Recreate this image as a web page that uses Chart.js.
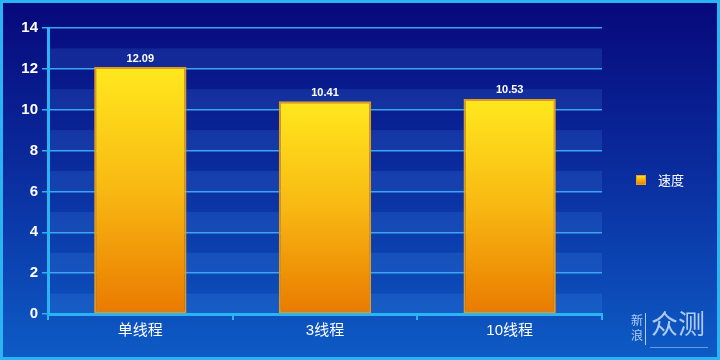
<!DOCTYPE html>
<html>
<head>
<meta charset="utf-8">
<script src="https://cdn.jsdelivr.net/npm/chart.js@4"></script>
<style>
  html, body { margin: 0; padding: 0; background: #0a2a9a; }
  #wrap { width: 720px; height: 360px; position: relative; }
</style>
</head>
<body>
<div id="wrap"><canvas id="speedChart" width="720" height="360"></canvas></div>
<script>
const categories = ["单线程", "3线程", "10线程"];
const speeds = [12.09, 10.41, 10.53];
const seriesLabel = "速度";
const yMax = 14;
const watermark = ["新", "浪", "众测"];

const cnFont = '"Liberation Sans", "Noto Sans CJK SC", sans-serif';

function barGradient(ctx) {
    const chart = ctx.chart;
    if (!chart.chartArea || ctx.parsed === undefined) return "#f5b010";
    const y = chart.scales.y;
    const top = y.getPixelForValue(ctx.parsed.y);
    const bottom = y.getPixelForValue(0);
    const g = chart.ctx.createLinearGradient(0, top, 0, bottom);
    g.addColorStop(0, "#ffe81e");
    g.addColorStop(0.5, "#f8b812");
    g.addColorStop(1, "#ea7a00");
    return g;
}

// background, frame and striped plot area
const backdrop = {
    id: "backdrop",
    beforeDraw(chart) {
        const { ctx, width, height, chartArea: a } = chart;
        const y = chart.scales.y;
        ctx.save();
        const bg = ctx.createLinearGradient(0, 0, 0, height);
        bg.addColorStop(0, "#06087a");
        bg.addColorStop(0.45, "#0a2a9c");
        bg.addColorStop(1, "#0d5cc6");
        ctx.fillStyle = bg;
        ctx.fillRect(0, 0, width, height);
        ctx.fillStyle = "rgba(90,170,255,0.15)";
        for (let v = 0; v < yMax; v += 2) {
            const t = y.getPixelForValue(v + 1);
            const b = y.getPixelForValue(v);
            ctx.fillRect(a.left, t, a.right - a.left, b - t);
        }
        ctx.strokeStyle = "#2ab4f4";
        ctx.lineWidth = 3;
        ctx.strokeRect(1.5, 1.5, width - 3, height - 3);
        ctx.restore();
    },
    afterDraw(chart) {
        const { ctx } = chart;
        const meta = chart.getDatasetMeta(0);
        ctx.save();
        // value labels
        ctx.fillStyle = "#ffffff";
        ctx.font = 'bold 11px "Liberation Sans", sans-serif';
        ctx.textAlign = "center";
        ctx.textBaseline = "bottom";
        meta.data.forEach((bar, i) => {
            ctx.fillText(speeds[i].toFixed(2), bar.x, bar.y - 3);
        });
        // legend
        const lx = 636, ly = 180;
        const lg = ctx.createLinearGradient(0, ly - 5, 0, ly + 5);
        lg.addColorStop(0, "#ffe81e");
        lg.addColorStop(1, "#ea7a00");
        ctx.fillStyle = lg;
        ctx.fillRect(lx, ly - 5, 10, 10);
        ctx.strokeStyle = "#e8a020";
        ctx.lineWidth = 1;
        ctx.strokeRect(lx + 0.5, ly - 4.5, 9, 9);
        ctx.fillStyle = "#ffffff";
        ctx.font = '13px "Noto Sans CJK SC", sans-serif';
        ctx.textAlign = "left";
        ctx.textBaseline = "middle";
        ctx.fillText(chart.data.datasets[0].label, 658, ly);
        // watermark
        ctx.fillStyle = "rgba(215,232,255,0.8)";
        ctx.font = '12px "Noto Sans CJK SC", sans-serif';
        ctx.textAlign = "center";
        ctx.fillText(watermark[0], 637, 320);
        ctx.fillText(watermark[1], 637, 335);
        ctx.font = '27px "Noto Sans CJK SC", sans-serif';
        ctx.textAlign = "left";
        ctx.fillText(watermark[2], 651, 324);
        ctx.fillRect(645, 313, 1, 32);
        ctx.fillStyle = "rgba(215,232,255,0.45)";
        ctx.fillRect(650, 347, 58, 1);
        ctx.restore();
    }
};

const chart = new Chart(document.getElementById("speedChart"), {
    type: "bar",
    data: {
        labels: categories,
        datasets: [{
            label: seriesLabel,
            data: speeds,
            backgroundColor: barGradient,
            borderColor: "#e39a1c",
            borderWidth: 2,
            borderSkipped: false,
            categoryPercentage: 1,
            barPercentage: 0.5,
        }],
    },
    options: {
        responsive: false,
        animation: false,
        layout: { padding: { top: 28, right: 118, left: 0, bottom: 0 } },
        plugins: {
            legend: { display: false },
            tooltip: { enabled: false },
        },
        scales: {
            x: {
                offset: true,
                grid: {
                    offset: true,
                    drawOnChartArea: false,
                    color: "#2ab4f4",
                    lineWidth: 2,
                    tickLength: 6,
                },
                border: { color: "#2ab4f4", width: 3 },
                ticks: {
                    color: "#ffffff",
                    font: { family: cnFont, size: 15 },
                    padding: 2,
                },
                afterFit(scale) { scale.height = 46; },
            },
            y: {
                min: 0,
                max: yMax,
                ticks: {
                    stepSize: 1,
                    color: "#ffffff",
                    font: { family: '"Liberation Sans", sans-serif', size: 15, weight: "bold" },
                    padding: 4,
                    callback: (v) => (v % 2 === 0 ? v : ""),
                },
                grid: {
                    color: "#3aa6f2",
                    lineWidth: 1.5,
                    tickLength: 6,
                    tickColor: (c) => (c.tick && c.tick.value % 2 === 0 ? "#2ab4f4" : "rgba(0,0,0,0)"),
                },
                border: { color: "#2ab4f4", width: 3 },
                afterFit(scale) { scale.width = 48; },
            },
        },
    },
    plugins: [backdrop],
});
</script>
</body>
</html>
